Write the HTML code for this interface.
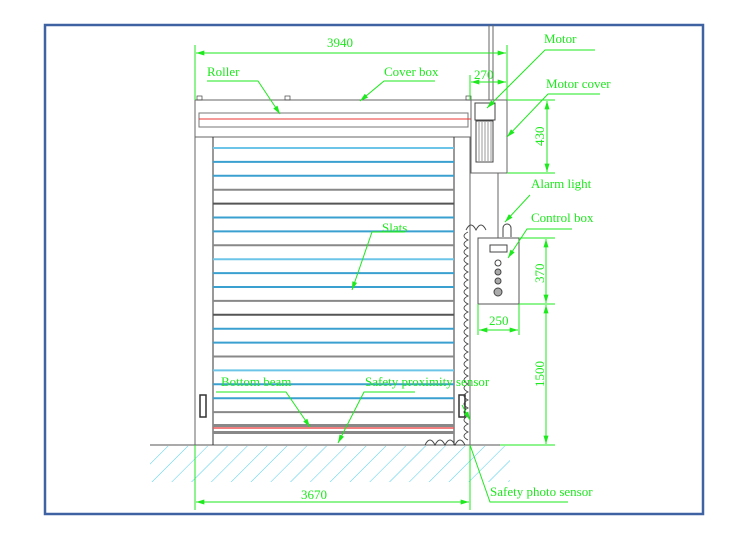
<!DOCTYPE html>
<html><head><meta charset="utf-8"><style>
html,body{margin:0;padding:0;background:#fff}
svg{display:block}
text{font-family:"Liberation Serif",serif;fill:#1ee81e;font-size:13px}
</style></head><body>
<svg width="750" height="537" viewBox="0 0 750 537" xmlns="http://www.w3.org/2000/svg">
<rect x="45" y="25" width="658" height="489" fill="#fff" stroke="#3f62a3" stroke-width="2.5"/>
<defs>
<marker id="a" viewBox="0 0 10 6" refX="10" refY="3" markerWidth="10" markerHeight="5" orient="auto-start-reverse" markerUnits="userSpaceOnUse"><path d="M0,0L10,3L0,6z" fill="#1ee81e"/></marker>
<pattern id="h" width="14" height="14" patternUnits="userSpaceOnUse" patternTransform="rotate(45)"><line x1="0" y1="0" x2="0" y2="14" stroke="#4fd0f0" stroke-width="1"/></pattern>
</defs>
<rect x="150" y="446" width="360" height="36" fill="url(#h)"/>
<line x1="150" y1="445" x2="500" y2="445" stroke="#555" stroke-width="1"/>
<rect x="195" y="100" width="276" height="37" fill="#fff" stroke="#666"/>
<rect x="199" y="113" width="269" height="14" fill="#fff" stroke="#777"/>
<line x1="199" y1="119" x2="500" y2="119" stroke="#e33" stroke-width="1"/>
<rect x="197" y="96" width="5" height="4" fill="none" stroke="#444" stroke-width="0.7"/>
<rect x="285" y="96" width="5" height="4" fill="none" stroke="#444" stroke-width="0.7"/>
<rect x="466" y="96" width="5" height="4" fill="none" stroke="#444" stroke-width="0.7"/>
<line x1="195" y1="137" x2="195" y2="445" stroke="#666"/>
<line x1="213" y1="137" x2="213" y2="445" stroke="#333"/>
<line x1="454" y1="137" x2="454" y2="445" stroke="#333"/>
<line x1="470" y1="137" x2="470" y2="445" stroke="#666"/>
<g id="slats"></g>
<rect x="213" y="424" width="241" height="3" fill="#888"/>
<line x1="213" y1="428" x2="454" y2="428" stroke="#e55" stroke-width="1.5"/>
<rect x="213" y="431" width="241" height="3" fill="#888"/>
<rect x="200" y="395" width="6" height="22" fill="none" stroke="#333" stroke-width="1.5"/>
<rect x="459" y="395" width="6" height="22" fill="none" stroke="#333" stroke-width="1.5"/>
<rect x="471" y="100" width="36" height="73" fill="#fff" stroke="#666"/>
<rect x="475" y="103" width="20" height="17" fill="#fff" stroke="#444"/>
<rect x="476" y="121" width="17" height="41" fill="#fff" stroke="#444"/>
<g stroke="#555" stroke-width="0.6"><line x1="479" y1="122" x2="479" y2="161"/><line x1="482" y1="122" x2="482" y2="161"/><line x1="485" y1="122" x2="485" y2="161"/><line x1="488" y1="122" x2="488" y2="161"/><line x1="491" y1="122" x2="491" y2="161"/></g>
<line x1="489" y1="25" x2="489" y2="100" stroke="#666"/>
<line x1="493" y1="25" x2="493" y2="100" stroke="#666"/>
<line x1="498" y1="173" x2="498" y2="238" stroke="#666"/>
<path id="loops" fill="none" stroke="#444" stroke-width="0.9"/>
<rect x="478" y="238" width="41" height="66" fill="#fff" stroke="#555"/>
<rect x="490" y="245" width="17" height="7" fill="#fff" stroke="#444"/>
<circle cx="498" cy="263" r="3" fill="none" stroke="#444"/>
<circle cx="498" cy="272" r="3" fill="#aaa" stroke="#444"/>
<circle cx="498" cy="281" r="3" fill="#aaa" stroke="#444"/>
<circle cx="498" cy="292" r="4" fill="#aaa" stroke="#444"/>
<path d="M503,237 v-9 a4,4 0 0 1 8,0 v9" fill="none" stroke="#444"/>
<g stroke="#1ee81e" stroke-width="1" fill="none">
<line x1="195" y1="45" x2="195" y2="100"/><line x1="507" y1="45" x2="507" y2="100"/>
<line x1="196" y1="53" x2="506" y2="53" marker-start="url(#a)" marker-end="url(#a)"/>
<line x1="470" y1="75" x2="470" y2="100"/>
<line x1="471" y1="82" x2="506" y2="82" marker-start="url(#a)" marker-end="url(#a)"/>
<line x1="507" y1="100" x2="555" y2="100"/><line x1="507" y1="173" x2="555" y2="173"/>
<line x1="547" y1="101" x2="547" y2="172" marker-start="url(#a)" marker-end="url(#a)"/>
<line x1="519" y1="238" x2="555" y2="238"/><line x1="519" y1="304" x2="555" y2="304"/>
<line x1="546" y1="239" x2="546" y2="303" marker-start="url(#a)" marker-end="url(#a)"/>
<line x1="546" y1="305" x2="546" y2="444" marker-start="url(#a)" marker-end="url(#a)"/>
<line x1="500" y1="445" x2="555" y2="445"/>
<line x1="478" y1="304" x2="478" y2="335"/><line x1="519" y1="304" x2="519" y2="335"/>
<line x1="479" y1="330" x2="518" y2="330" marker-start="url(#a)" marker-end="url(#a)"/>
<line x1="195" y1="445" x2="195" y2="510"/><line x1="470" y1="445" x2="470" y2="510"/>
<line x1="196" y1="502" x2="469" y2="502" marker-start="url(#a)" marker-end="url(#a)"/>
<polyline points="207,81 258,81 280,114" marker-end="url(#a)"/>
<polyline points="435,81 384,81 360,101" marker-end="url(#a)"/>
<polyline points="595,50 545,50 487,108" marker-end="url(#a)"/>
<polyline points="600,94 548,94 507,137" marker-end="url(#a)"/>
<polyline points="530,195 505,222" marker-end="url(#a)"/>
<polyline points="572,229 527,229 508,258" marker-end="url(#a)"/>
<polyline points="405,232 372,232 352,290" marker-end="url(#a)"/>
<polyline points="216,392 286,392 310,427" marker-end="url(#a)"/>
<polyline points="415,392 364,392 338,443" marker-end="url(#a)"/>
<polyline points="568,502 490,502 470,445"/>
<line x1="462" y1="405" x2="470" y2="420" marker-end="url(#a)"/>
</g>
<text x="327" y="47">3940</text>
<text x="474" y="79" font-size="16">270</text>
<text x="544" y="43">Motor</text>
<text x="546" y="88">Motor cover</text>
<text x="207" y="76">Roller</text>
<text x="384" y="76">Cover  box</text>
<text x="531" y="188">Alarm light</text>
<text x="531" y="222">Control box</text>
<text x="382" y="232">Slats</text>
<text x="221" y="386">Bottom beam</text>
<text x="365" y="386">Safety proximity sensor</text>
<text x="489" y="325">250</text>
<text x="301" y="499">3670</text>
<text x="490" y="496">Safety photo sensor</text>
<text transform="translate(544,146) rotate(-90)">430</text>
<text transform="translate(544,283) rotate(-90)">370</text>
<text transform="translate(544,387) rotate(-90)">1500</text>
</svg>
<script>
var g=document.getElementById('slats'),s='';
for(var i=0;i<20;i++){var y=148+i*13.9;var c=['#6cc5e8','#3aa0d0','#3aa0d0','#888','#555','#3aa0d0','#3aa0d0','#888'][i%8];
s+='<line x1="213" y1="'+y+'" x2="454" y2="'+y+'" stroke="'+c+'" stroke-width="2"/>';}
g.innerHTML=s;
var d='M466,230 q5,-10 10,0 q5,-10 10,0 M468,232';
for(var y=232;y<438;y+=8)d+=' q-8,4 0,8';
d+=' M425,445 q5,-10 10,0 q5,-10 10,0 q5,-10 10,0 q5,-10 10,0';
document.getElementById('loops').setAttribute('d',d);
</script>
</body></html>
